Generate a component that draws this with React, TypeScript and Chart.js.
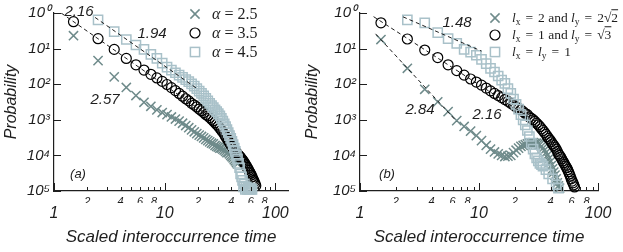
import React, { useEffect, useRef } from "react";
import { Chart, registerables } from "chart.js";
Chart.register(...registerables);

// ---------- data: panel (a) ----------
const a25X = [1.5,2.5,3.5,4.5,5.5,6.5,7.5,8.5,9.5,10.5,11.5,12.5,13.5,14.5,15.5,16.5,17.5,18.5,19.5,20.5,21.5,22.5,23.5,24.5,25.5,26.5,27.5,28.5,29.5,30.5,31.5,32.5,33.5,34.5,35.5,36.5,37.5,38.5,39.5,40.5,41.5,42.5,43.5,44.5,45.5];
const a25Y = [0.23,0.046,0.016,0.0081,0.0048,0.0031,0.0024,0.0019,0.0016,0.0014,0.0012,0.00105,0.00092,0.0008,0.00069,0.0006,0.00052,0.00046,0.00041,0.00037,0.00034,0.00031,0.00028,0.00026,0.00024,0.00022,0.00021,0.00019,0.00018,0.00017,0.00016,0.00016,0.00015,0.00014,0.00013,0.00012,0.00012,0.00011,0.0001,0.000092,0.000085,0.000076,0.00007,0.000063,0.000058];

const a35X = [1.5,2.5,3.5,4.5,5.5,6.5,7.5,8.5,9.5,10.5,11.5,12.5,13.5,14.5,15.5,16.5,17.5,18.5,19.5,20.5,21.5,22.5,23.5,24.5,25.5,26.5,27.5,28.5,29.5,30.5,31.5,32.5,33.5,34.5,35.5,36.5,37.5,38.5,39.5,40.5,41.5,42.5,43.5,44.5,45.5,46.5,47.5,48.5,49.5,50.5,51.5,52.5,53.5,54.5,55.5,56.5,57.5,58.5,59.5,60.5,61.5,62.5,63.5,64.5,65.5,66.5];
const a35Y = [0.57,0.19,0.095,0.053,0.035,0.025,0.019,0.015,0.012,0.0098,0.008,0.0066,0.0055,0.0046,0.0039,0.0034,0.0029,0.0026,0.0023,0.002,0.0018,0.0016,0.0014,0.0013,0.00115,0.00103,0.00093,0.00083,0.00074,0.00066,0.00058,0.00051,0.00045,0.00039,0.00034,0.0003,0.00026,0.00023,0.0002,0.00018,0.00016,0.00014,0.00013,0.00012,0.00011,0.0001,0.000095,0.000087,0.00008,0.000074,0.000068,0.000062,0.000056,0.000051,0.000046,0.000042,0.000038,0.000034,0.000031,0.000028,0.000025,0.000022,0.00002,0.000018,0.000016,0.000014];

const a45X = [2.5,3.5,4.5,5.5,6.5,7.5,8.5,9.5,10.5,11.5,12.5,13.5,14.5,15.5,16.5,17.5,18.5,19.5,20.5,21.5,22.5,23.5,24.5,25.5,26.5,27.5,28.5,29.5,30.5,31.5,32.5,33.5,34.5,35.5,36.5,37.5,38.5,39.5,40.5,41.5,42.5,43.5,44.5,45.5,46.5,47.5,48.5,49.5,50.5,51.5,52.5,53.5,54.5,55.5,56.5,57.5,58.5,59.5,60.5,61.5];
const a45Y = [0.64,0.3,0.18,0.126,0.095,0.069,0.053,0.039,0.03,0.025,0.021,0.018,0.0155,0.0135,0.0118,0.0102,0.0088,0.0075,0.0064,0.0055,0.0047,0.004,0.0034,0.0029,0.0025,0.0022,0.0019,0.0017,0.0015,0.0013,0.0011,0.00092,0.00077,0.00064,0.00053,0.00044,0.00036,0.0003,0.00025,0.0002,0.00016,0.00013,0.0001,0.00008,0.00006,0.000045,0.00003,0.000025,0.00002,0.000013,0.000016,0.000011,0.000013,0.000011,0.000012,0.000011,0.000011,0.000012,0.000011,0.000011];

const fitA216X = [1.16, 22];
const fitA216Y = [1.0, 0.0017];
const fitA194X = [2.35, 20];
const fitA194Y = [0.75, 0.0072];

// ---------- data: panel (b) ----------
const b1X = [1.5,2.5,3.5,4.5,5.5,6.5,7.5,8.5,9.5,10.5,11.5,12.5,13.5,14.5,15.5,16.5,17.5,18.5,19.5,20.5,21.5,22.5,23.5,24.5,25.5,26.5,27.5,28.5,29.5,30.5,31.5,32.5,33.5,34.5,35.5,36.5,37.5,38.5,39.5,40.5,41.5,42.5,43.5,44.5,45.5,46.5,47.5];
const b1Y = [0.18,0.028,0.0072,0.0032,0.0017,0.00095,0.00065,0.00048,0.00036,0.00026,0.00019,0.00015,0.000125,0.00011,0.0001,0.000093,0.000095,0.0001,0.00012,0.00014,0.00016,0.00018,0.00019,0.0002,0.00021,0.00022,0.00022,0.00023,0.00022,0.00022,0.00021,0.0002,0.00018,0.00016,0.00014,0.00012,0.0001,0.00008,0.000065,0.000052,0.000042,0.000034,0.000028,0.000022,0.000017,0.000014,0.000012];

const b2X = [1.5,2.5,3.5,4.5,5.5,6.5,7.5,8.5,9.5,10.5,11.5,12.5,13.5,14.5,15.5,16.5,17.5,18.5,19.5,20.5,21.5,22.5,23.5,24.5,25.5,26.5,27.5,28.5,29.5,30.5,31.5,32.5,33.5,34.5,35.5,36.5,37.5,38.5,39.5,40.5,41.5,42.5,43.5,44.5,45.5,46.5,47.5,48.5,49.5,50.5,51.5,52.5,53.5,54.5,55.5,56.5,57.5,58.5,59.5,60.5,61.5,62.5,63.5];
const b2Y = [0.53,0.186,0.091,0.056,0.035,0.024,0.018,0.014,0.0115,0.0094,0.0078,0.0065,0.0055,0.0048,0.0042,0.0037,0.0033,0.0029,0.0026,0.0023,0.0021,0.0019,0.0017,0.0015,0.0014,0.0012,0.0011,0.001,0.0009,0.0008,0.00072,0.00064,0.00056,0.0005,0.00044,0.00039,0.00034,0.0003,0.00027,0.00024,0.00021,0.00019,0.00017,0.00015,0.00013,0.00011,0.0001,0.00009,0.00008,0.00007,0.000063,0.000056,0.00005,0.000045,0.00004,0.000035,0.00003,0.000026,0.000022,0.000019,0.000017,0.000015,0.000013];

const b3X = [2.5,3.5,4.5,5.5,6.5,7.5,8.5,9.5,10.5,11.5,12.5,13.5,14.5,15.5,16.5,17.5,18.5,19.5,20.5,21.5,22.5,23.5,24.5,25.5,26.5,27.5,28.5,29.5,30.5,31.5,32.5,33.5,34.5,36.5,38.5,41.5,44.5,46.5];
const b3Y = [0.64,0.53,0.28,0.19,0.14,0.095,0.08,0.065,0.05,0.038,0.028,0.022,0.017,0.013,0.0105,0.0075,0.0055,0.0038,0.0027,0.002,0.0014,0.001,0.00072,0.0005,0.00034,0.00022,0.00015,0.00011,0.000085,0.00007,0.00006,0.000055,0.00005,0.00004,0.00003,0.000022,0.000015,0.000012];

const fitB284X = [1.35, 6.5];
const fitB284Y = [0.26, 0.0009];
const fitB216X = [1.3, 30];
const fitB216Y = [0.79, 0.0009];
const fitB148X = [2.3, 10.5];
const fitB148Y = [0.78, 0.085];

// ---------- style ----------
const SANS = '"Liberation Sans", Arial, Helvetica, sans-serif';
const SERIF = '"Liberation Serif", "DejaVu Serif", "Times New Roman", serif';
const INK = "#1e1e1e";
const C_CROSS = "#6f8b8b";
const C_SQUARE = "#a9c1c9";
const SUP = ["\u2070", "\u00b9", "\u00b2", "\u00b3", "\u2074", "\u2075"];

const pts = (xs: number[], ys: number[]) => xs.map((x, i) => ({ x, y: ys[i] }));

const mantissa = (v: number) => {
  const e = Math.floor(Math.log10(v) + 1e-9);
  return v / Math.pow(10, e);
};
const isInt = (m: number) => Math.abs(m - Math.round(m)) < 1e-6;
const isPow10 = (v: number) => {
  const l = Math.log10(v);
  return Math.abs(l - Math.round(l)) < 1e-6;
};

const inwardTicks = {
  id: "inwardTicks",
  afterDraw(chart: any) {
    const { ctx, chartArea: a, scales } = chart;
    const xs = scales.x;
    const ys = scales.y;
    ctx.save();
    ctx.strokeStyle = INK;
    ctx.lineWidth = 1;
    xs.ticks.forEach((t: any) => {
      const m = mantissa(t.value);
      if (!isInt(m)) return;
      const px = Math.round(xs.getPixelForValue(t.value)) + 0.5;
      const len = Math.round(m) === 1 ? 8 : 4;
      ctx.beginPath();
      ctx.moveTo(px, a.bottom);
      ctx.lineTo(px, a.bottom - len);
      ctx.stroke();
    });
    ys.ticks.forEach((t: any) => {
      if (!isPow10(t.value)) return;
      const py = Math.round(ys.getPixelForValue(t.value)) + 0.5;
      ctx.beginPath();
      ctx.moveTo(a.left, py);
      ctx.lineTo(a.left + 7, py);
      ctx.stroke();
    });
    ctx.restore();
  },
};

const markerSet = (label: string, data: any[], kind: "x" | "o" | "s") => {
  const base: any = { label, data, showLine: false, clip: false, xAxisID: "x", yAxisID: "y" };
  if (kind === "x") return { ...base, pointStyle: "crossRot", pointRadius: 6.5, borderColor: C_CROSS, pointBorderWidth: 1.5, backgroundColor: "rgba(0,0,0,0)", order: 4 };
  if (kind === "o") return { ...base, pointStyle: "circle", pointRadius: 5, borderColor: "#000", pointBorderWidth: 1.2, backgroundColor: "rgba(0,0,0,0)", order: 3 };
  return { ...base, pointStyle: "rect", pointRadius: 6.5, borderColor: C_SQUARE, pointBorderWidth: 1.5, backgroundColor: "rgba(0,0,0,0)", order: 2 };
};

const fitSet = (data: any[]) => ({
  data,
  showLine: true,
  pointRadius: 0,
  borderColor: INK,
  borderWidth: 1,
  borderDash: [4, 3],
  xAxisID: "x",
  yAxisID: "y",
  order: 1,
});

function build(canvas: HTMLCanvasElement, datasets: any[], xMax: number, yWidth: number, padRight: number) {
  return new Chart(canvas, {
    type: "scatter",
    data: { datasets },
    plugins: [inwardTicks],
    options: {
      responsive: false,
      animation: false,
      devicePixelRatio: 1,
      events: [],
      layout: { padding: { top: 13, right: padRight, left: 0, bottom: 0 } },
      plugins: { legend: { display: false }, tooltip: { enabled: false } },
      scales: {
        x: {
          type: "logarithmic",
          axis: "x",
          position: "bottom",
          min: 1,
          max: xMax,
          grid: { display: false, drawTicks: false },
          border: { display: true, color: INK, width: 1.2 },
          ticks: {
            autoSkip: false,
            maxRotation: 0,
            padding: 4,
            color: INK,
            font: { family: SANS, size: 11, style: "italic" },
            callback: (v: any) => {
              const m = mantissa(Number(v));
              if (!isInt(m)) return "";
              const r = Math.round(m);
              return r === 2 || r === 4 || r === 6 || r === 8 ? String(r) : "";
            },
          },
          afterFit: (s: any) => { s.height = 12; },
        },
        x2: {
          type: "logarithmic",
          axis: "x",
          position: "bottom",
          min: 1,
          max: xMax,
          grid: { display: false, drawTicks: false },
          border: { display: false },
          ticks: {
            autoSkip: false,
            maxRotation: 0,
            padding: 1,
            color: INK,
            font: { family: SANS, size: 16, style: "italic" },
            callback: (v: any) => (isPow10(Number(v)) ? String(Math.round(Number(v))) : ""),
          },
          title: {
            display: true,
            text: "Scaled interoccurrence time",
            color: INK,
            font: { family: SANS, size: 17, style: "italic" },
            padding: { top: 0, bottom: 5 },
          },
          afterFit: (s: any) => { s.height = 49; },
        },
        y: {
          type: "logarithmic",
          position: "left",
          min: 0.00001,
          max: 1,
          grid: { display: false, drawTicks: false },
          border: { display: true, color: INK, width: 1.2 },
          ticks: {
            autoSkip: false,
            padding: 4,
            color: INK,
            font: { family: SANS, size: 15, style: "italic" },
            callback: (v: any) => {
              const n = Number(v);
              if (!isPow10(n)) return "";
              return "10" + SUP[-Math.round(Math.log10(n))];
            },
          },
          title: {
            display: true,
            text: "Probability",
            color: INK,
            font: { family: SANS, size: 16, style: "italic" },
            padding: { top: 2, bottom: 0 },
          },
          afterFit: (s: any) => { s.width = yWidth; },
        },
      },
    } as any,
  });
}

const annStyle = (left: number, top: number, size = 14): React.CSSProperties => ({
  position: "absolute",
  left,
  top,
  transform: "translate(-50%, -50%)",
  font: `italic ${size}px ${SANS}`,
  color: INK,
  whiteSpace: "nowrap",
  lineHeight: 1,
});

function Marker({ kind, cx, cy }: { kind: "x" | "o" | "s"; cx: number; cy: number }) {
  return (
    <svg width={14} height={14} style={{ position: "absolute", left: cx - 7, top: cy - 7 }}>
      {kind === "x" && (
        <g stroke={C_CROSS} strokeWidth={1.5}>
          <line x1={2.4} y1={2.4} x2={11.6} y2={11.6} />
          <line x1={11.6} y1={2.4} x2={2.4} y2={11.6} />
        </g>
      )}
      {kind === "o" && <circle cx={7} cy={7} r={5} fill="none" stroke="#000" strokeWidth={1.2} />}
      {kind === "s" && <rect x={2.4} y={2.4} width={9.2} height={9.2} fill="none" stroke={C_SQUARE} strokeWidth={1.5} />}
    </svg>
  );
}

const legText = (left: number, cy: number, size: number): React.CSSProperties => ({
  position: "absolute",
  left,
  top: cy,
  transform: "translateY(-50%)",
  font: `${size}px ${SERIF}`,
  color: INK,
  whiteSpace: "nowrap",
  lineHeight: 1,
});

const subStyle: React.CSSProperties = { fontSize: "0.7em", position: "relative", top: "0.3em" };
const eqStyle: React.CSSProperties = { margin: "0 0.12em" };

export default function App() {
  const refA = useRef<HTMLCanvasElement>(null);
  const refB = useRef<HTMLCanvasElement>(null);

  useEffect(() => {
    const ca = build(
      refA.current!,
      [
        fitSet(pts(fitA216X, fitA216Y)),
        fitSet(pts(fitA194X, fitA194Y)),
        markerSet("α = 2.5", pts(a25X, a25Y), "x"),
        markerSet("α = 3.5", pts(a35X, a35Y), "o"),
        markerSet("α = 4.5", pts(a45X, a45Y), "s"),
      ],
      130,
      54,
      22
    );
    const cb = build(
      refB.current!,
      [
        fitSet(pts(fitB284X, fitB284Y)),
        fitSet(pts(fitB216X, fitB216Y)),
        fitSet(pts(fitB148X, fitB148Y)),
        markerSet("lx = 2 and ly = 2√2", pts(b1X, b1Y), "x"),
        markerSet("lx = 1 and ly = √3", pts(b2X, b2Y), "o"),
        markerSet("lx = ly = 1", pts(b3X, b3Y), "s"),
      ],
      100,
      59,
      25
    );
    return () => {
      ca.destroy();
      cb.destroy();
    };
  }, []);

  return (
    <div style={{ position: "absolute", left: 0, top: 0, width: 623, height: 252, background: "#fff", overflow: "hidden" }}>
      <canvas ref={refA} width={310} height={252} style={{ position: "absolute", left: 0, top: 0 }} />
      <canvas ref={refB} width={322} height={252} style={{ position: "absolute", left: 301, top: 0 }} />

      {/* panel (a) annotations */}
      <div style={annStyle(79, 10, 15)}>2.16</div>
      <div style={annStyle(152, 32, 15)}>1.94</div>
      <div style={annStyle(105, 98, 15)}>2.57</div>
      <div style={annStyle(78, 173, 13)}>(a)</div>

      {/* panel (b) annotations */}
      <div style={annStyle(457, 21, 15)}>1.48</div>
      <div style={annStyle(420, 108, 15)}>2.84</div>
      <div style={annStyle(487, 113, 15)}>2.16</div>
      <div style={annStyle(387, 173, 13)}>(b)</div>

      {/* panel (a) legend */}
      <Marker kind="x" cx={195} cy={14} />
      <Marker kind="o" cx={195} cy={33} />
      <Marker kind="s" cx={195} cy={52} />
      <div style={legText(212, 14, 16)}><i>α</i> = 2.5</div>
      <div style={legText(212, 33, 16)}><i>α</i> = 3.5</div>
      <div style={legText(212, 52, 16)}><i>α</i> = 4.5</div>

      {/* panel (b) legend */}
      <Marker kind="x" cx={495} cy={18} />
      <Marker kind="o" cx={495} cy={35} />
      <Marker kind="s" cx={495} cy={52} />
      <div style={legText(512, 18, 13.5)}>
        <i>l</i><span style={subStyle}>x</span><span style={eqStyle}> = </span>2 and <i>l</i><span style={subStyle}>y</span><span style={eqStyle}> = </span>2√<span style={{ textDecoration: "overline" }}>2</span>
      </div>
      <div style={legText(512, 35, 13.5)}>
        <i>l</i><span style={subStyle}>x</span><span style={eqStyle}> = </span>1 and <i>l</i><span style={subStyle}>y</span><span style={eqStyle}> = </span>√<span style={{ textDecoration: "overline" }}>3</span>
      </div>
      <div style={legText(512, 52, 13.5)}>
        <i>l</i><span style={subStyle}>x</span><span style={eqStyle}> = </span><i>l</i><span style={subStyle}>y</span><span style={eqStyle}> = </span>1
      </div>
    </div>
  );
}
